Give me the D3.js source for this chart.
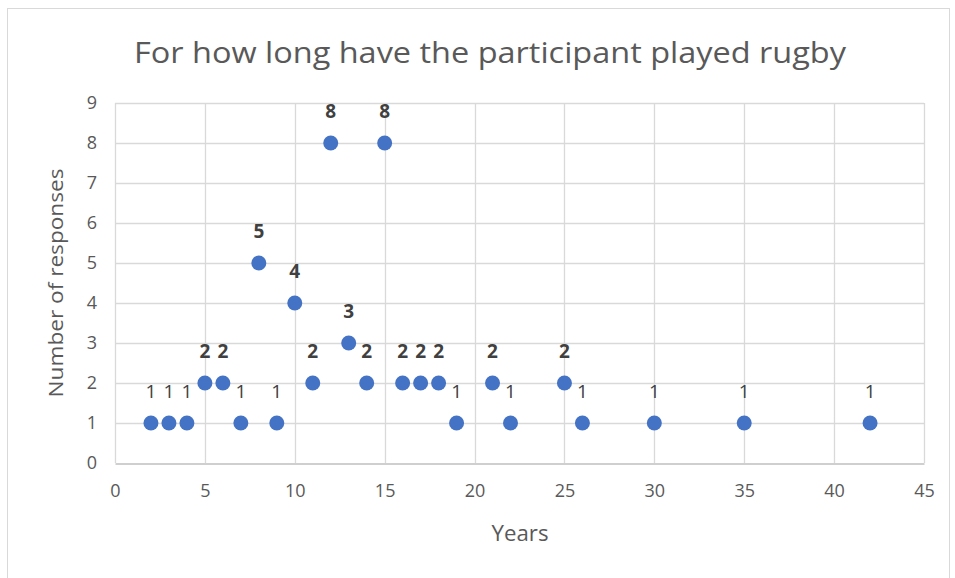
<!DOCTYPE html>
<html>
<head>
<meta charset="utf-8">
<script src="https://cdn.jsdelivr.net/npm/d3@7"></script>
<style>
  html, body { margin: 0; padding: 0; background: #fff; }
  svg { display: block; }
</style>
</head>
<body>
<svg id="chart" width="955" height="578"></svg>
<script>
// Years played and the number of participants reporting each value
const years     = [2, 3, 4, 5, 6, 7, 8, 9, 10, 11, 12, 13, 14, 15, 16, 17, 18, 19, 21, 22, 25, 26, 30, 35, 42];
const responses = [1, 1, 1, 2, 2, 1, 5, 1, 4, 2, 8, 3, 2, 8, 2, 2, 2, 1, 2, 1, 2, 1, 1, 1, 1];
const xTicks = [0, 5, 10, 15, 20, 25, 30, 35, 40, 45];
const yTicks = [0, 1, 2, 3, 4, 5, 6, 7, 8, 9];

const titleText = "For how long have the participant played rugby";
const xTitle = "Years";
const yTitle = "Number of responses";

const font = "'Open Sans', 'Noto Sans', sans-serif";
const svg = d3.select("#chart");

// chart frame
svg.append("rect")
  .attr("x", 7.5).attr("y", 8.5).attr("width", 942).attr("height", 580)
  .attr("fill", "#fff").attr("stroke", "#d9d9d9").attr("stroke-width", 1);

const plot = { left: 115, right: 924, top: 103, bottom: 463 };
const x = d3.scaleLinear().domain([0, 45]).range([plot.left, plot.right]);
const y = d3.scaleLinear().domain([0, 9]).range([plot.bottom, plot.top]);

// gridlines
const grid = svg.append("g");
grid.selectAll("line.h").data(yTicks.filter(d => d > 0)).join("line")
  .attr("x1", plot.left).attr("x2", plot.right)
  .attr("y1", d => Math.round(y(d)) + 0.5).attr("y2", d => Math.round(y(d)) + 0.5)
  .attr("stroke", "#d9d9d9").attr("stroke-width", 1.3);
grid.selectAll("line.v").data(xTicks).join("line")
  .attr("y1", plot.top).attr("y2", plot.bottom)
  .attr("x1", d => Math.round(x(d)) + 0.5).attr("x2", d => Math.round(x(d)) + 0.5)
  .attr("stroke", "#d9d9d9").attr("stroke-width", 1.3);

// axes
const xAxis = d3.axisBottom(x).tickValues(xTicks).tickSize(0).tickPadding(21);
const gx = svg.append("g").attr("transform", `translate(0,${Math.round(y(0)) + 0.5})`).call(xAxis);
gx.select(".domain").attr("stroke", "#bfbfbf").attr("stroke-width", 1.5);
gx.selectAll("text").attr("font-family", font).attr("font-size", 18).attr("fill", "#595959");

const yAxis = d3.axisLeft(y).tickValues(yTicks).tickSize(0).tickPadding(18);
const gy = svg.append("g").attr("transform", `translate(${plot.left},0)`).call(yAxis);
gy.select(".domain").remove();
gy.selectAll("text").attr("font-family", font).attr("font-size", 18).attr("fill", "#595959");

// titles
svg.append("text").attr("x", 490).attr("y", 63).attr("text-anchor", "middle")
  .attr("font-family", font).attr("font-size", 30).attr("fill", "#595959")
  .attr("textLength", 712).attr("lengthAdjust", "spacingAndGlyphs")
  .text(titleText);
svg.append("text").attr("x", 520).attr("y", 541).attr("text-anchor", "middle")
  .attr("font-family", font).attr("font-size", 21).attr("fill", "#595959")
  .attr("textLength", 57).attr("lengthAdjust", "spacingAndGlyphs")
  .text(xTitle);
svg.append("text")
  .attr("transform", `translate(63,${(plot.top + plot.bottom) / 2}) rotate(-90)`)
  .attr("text-anchor", "middle")
  .attr("font-family", font).attr("font-size", 20).attr("fill", "#595959")
  .attr("textLength", 229).attr("lengthAdjust", "spacingAndGlyphs")
  .text(yTitle);

// points
const data = years.map((d, i) => ({ year: d, count: responses[i] }));
svg.append("g").selectAll("circle").data(data).join("circle")
  .attr("cx", d => x(d.year)).attr("cy", d => y(d.count)).attr("r", 7.5)
  .attr("fill", "#4472c4");

// value labels
svg.append("g").selectAll("text").data(data).join("text")
  .attr("x", d => x(d.year)).attr("y", d => y(d.count) - 25)
  .attr("text-anchor", "middle")
  .attr("font-family", font).attr("font-size", 19)
  .attr("font-weight", d => d.count > 1 ? "bold" : "normal")
  .attr("fill", "#404040")
  .text(d => d.count);
</script>
</body>
</html>
